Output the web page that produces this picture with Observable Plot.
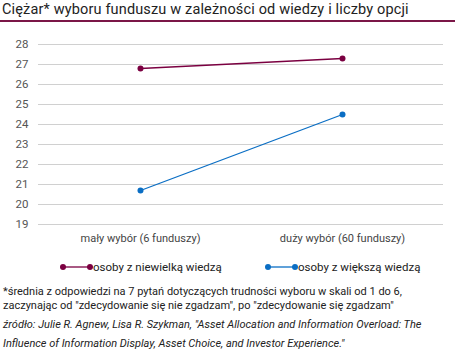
<!DOCTYPE html>
<html><head><meta charset="utf-8">
<script src="https://cdn.jsdelivr.net/npm/d3@7"></script>
<script src="https://cdn.jsdelivr.net/npm/@observablehq/plot@0.6"></script>
<style>
body{margin:0;background:#fff;font-family:"Roboto","DejaVu Sans",sans-serif;color:#222;width:455px;overflow:hidden}
#title{font-size:14.5px;height:20px;line-height:20px;padding-left:2px;border-bottom:2px solid #7b1747;letter-spacing:0.15px}
#chart{margin-top:2px}
#legend{position:relative;height:30px;font-size:11.5px;color:#222}
.lg{position:absolute;top:11px;display:flex;align-items:center}
.lg svg{display:block}
#notes{font-size:11px;line-height:13.5px;padding-left:3px;color:#222;margin-top:6px}
#src{font-style:italic;font-size:11px;line-height:19px;padding-left:3px;margin-top:3px}
</style></head><body>
<div id="title">Ciężar* wyboru funduszu w zależności od wiedzy i liczby opcji</div>
<div id="chart"></div>
<div id="legend"></div>
<div id="notes">*średnia z odpowiedzi na 7 pytań dotyczących trudności wyboru w skali od 1 do 6,<br>zaczynając od "zdecydowanie się nie zgadzam", po "zdecydowanie się zgadzam"</div>
<div id="src">źródło: Julie R. Agnew, Lisa R. Szykman, "Asset Allocation and Information Overload: The<br>Influence of Information Display, Asset Choice, and Investor Experience."</div>
<script>
const categories = ["mały wybór (6 funduszy)", "duży wybór (60 funduszy)"];
const seriesNames = ["osoby z niewielką wiedzą", "osoby z większą wiedzą"];
const lowKnowledge = [26.8, 27.3];
const highKnowledge = [20.7, 24.5];
const yTicks = [19, 20, 21, 22, 23, 24, 25, 26, 27, 28];
const colors = ["#7b0041", "#0a6ec4"];

const data = [];
[lowKnowledge, highKnowledge].forEach((vals, s) => vals.forEach((v, i) => data.push({cat: categories[i], value: v, series: seriesNames[s]})));

const plot = Plot.plot({
  width: 455, height: 225,
  marginTop: 20, marginBottom: 25, marginLeft: 38, marginRight: 12,
  style: {fontFamily: "Roboto, sans-serif", fontSize: "11px", color: "#444"},
  x: {type: "point", domain: categories, padding: 0.5, label: null},
  y: {domain: [19, 28], ticks: yTicks, label: null},
  color: {domain: seriesNames, range: colors},
  marks: [
    Plot.gridY(yTicks, {stroke: "#d0d0d0", strokeOpacity: 1, strokeWidth: 1}),
    Plot.axisY(yTicks, {tickSize: 0, tickPadding: 10, fill: "#555", fontSize: 11.5}),
    Plot.axisX({tickSize: 0, tickPadding: 10, fill: "#444", fontSize: 11}),
    Plot.line(data, {x: "cat", y: "value", z: "series", stroke: "series", strokeWidth: 1.3}),
    Plot.dot(data, {x: "cat", y: "value", fill: "series", r: 3})
  ]
});
document.getElementById("chart").appendChild(plot);

const leg = document.getElementById("legend");
const lx = [63, 268];
seriesNames.forEach((n, i) => {
  const d = document.createElement("div");
  d.className = "lg";
  d.style.left = (lx[i] - 3) + "px";
  d.innerHTML = `<svg width="33" height="10"><line x1="3" y1="5" x2="30" y2="5" stroke="${colors[i]}" stroke-width="1.3"/><circle cx="3" cy="5" r="3" fill="${colors[i]}"/><circle cx="30" cy="5" r="3" fill="${colors[i]}"/></svg><span>${n}</span>`;
  leg.appendChild(d);
});
</script>
</body></html>
